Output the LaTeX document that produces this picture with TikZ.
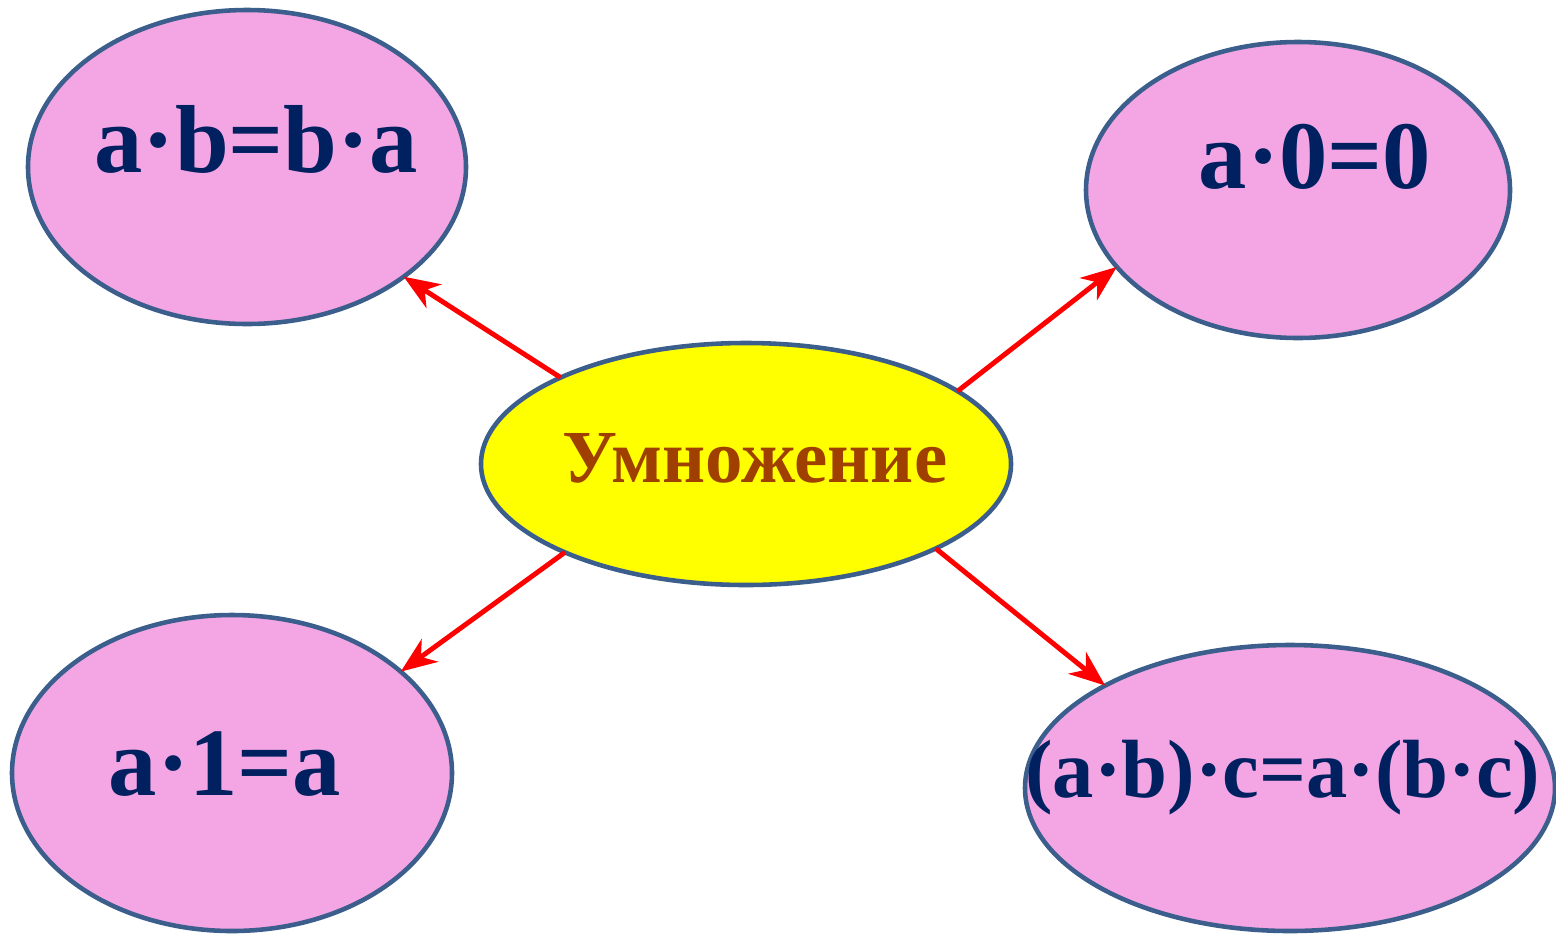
\documentclass[tikz,border=0pt]{standalone}
\usepackage{fontspec}
\setmainfont{Liberation Serif}
\usetikzlibrary{shapes.geometric,arrows.meta}
\definecolor{leafpink}{RGB}{244,166,228}
\definecolor{hubyellow}{RGB}{255,255,0}
\definecolor{rimblue}{RGB}{59,94,140}
\definecolor{inkblue}{RGB}{0,32,96}
\definecolor{inkbrown}{RGB}{160,64,0}
\definecolor{linkred}{RGB}{255,0,0}
\begin{document}
\begin{tikzpicture}[
    leaf/.style={ellipse, draw=rimblue, line width=1.3pt, fill=leafpink, inner sep=0pt, outer sep=0pt},
    formula/.style={anchor=base, text=inkblue, font=\fontsize{27.5}{30}\selectfont\bfseries},
    link/.style={-{Stealth[length=3.6mm, width=2.8mm, inset=1.1mm]}, linkred, line width=1.4pt}
]
            \useasboundingbox (0,0) rectangle (15.56,9.34);
            \node[leaf, minimum width=4.38cm, minimum height=3.14cm] (comm) at (2.47,7.67) {};
            \node[leaf, minimum width=4.24cm, minimum height=2.96cm] (zero) at (12.98,7.44) {};
            \node[leaf, minimum width=4.40cm, minimum height=3.16cm] (one) at (2.32,1.61) {};
            \node[leaf, minimum width=5.30cm, minimum height=2.86cm] (assoc) at (12.90,1.46) {};
            \node[leaf, fill=hubyellow, minimum width=5.30cm, minimum height=2.42cm] (mult) at (7.46,4.70) {};
            \node[formula] (commtext) at (2.565,7.62) {a·b=b·a};
            \node[formula] (zerotext) at (13.15,7.46) {a·0=0};
            \node[formula] (onetext) at (2.25,1.39) {a·1=a};
            \node[formula, font=\fontsize{23.5}{26}\selectfont\bfseries] (assoctext) at (12.83,1.37) {(a·b)·c=a·(b·c)};
            \node[anchor=base, text=inkbrown, font=\fontsize{21.3}{24}\selectfont\bfseries] (multtext) at (7.55,4.52) {Умножение};
            \draw[link] (mult.155) -- (comm.-35.6);
            \draw[link] (mult.19) -- (zero.203);
            \draw[link] (mult.206) -- (one.31);
            \draw[link] (mult.-24.7) -- (assoc.151.5);
        \end{tikzpicture}
\end{document}
